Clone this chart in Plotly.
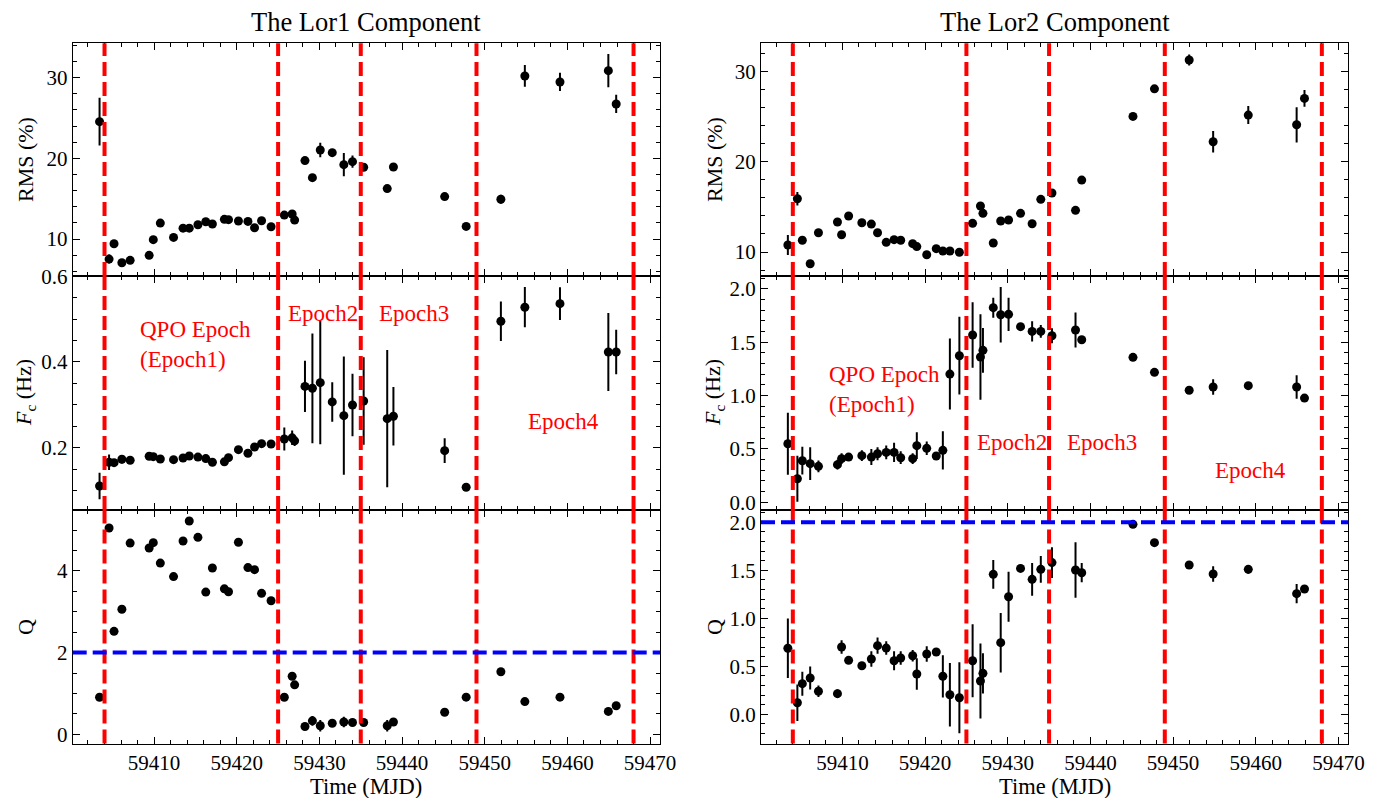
import plotly.graph_objects as go

# ---------------- data ----------------
mjd = [59403.4, 59404.55, 59405.15, 59406.1, 59407.1, 59409.4, 59409.9, 59410.75, 59412.35, 59413.5,
       59414.25, 59415.3, 59416.25, 59417.05, 59418.5, 59419.0, 59420.2, 59421.35, 59422.15, 59423.0,
       59424.15, 59425.75, 59426.7, 59427.0, 59428.25, 59429.15, 59430.1, 59431.55, 59432.95, 59434.0,
       59435.35, 59438.2, 59438.95, 59445.15, 59447.75, 59451.95, 59454.85, 59459.1, 59464.95, 59465.9]

lor1_rms = [24.55, 7.52, 9.42, 7.06, 7.36, 7.98, 9.92, 11.98, 10.2, 11.35,
            11.35, 11.77, 12.14, 11.86, 12.44, 12.4, 12.23, 12.19, 11.4, 12.27,
            11.52, 12.97, 13.1, 12.35, 19.72, 17.61, 21.04, 20.71, 19.22, 19.59,
            18.9, 16.25, 18.93, 15.26, 11.57, 14.93, 30.21, 29.47, 30.87, 26.74]
lor1_rms_err = [2.95, 0.55, 0.2, 0.2, 0.2, 0.2, 0.2, 0.2, 0.2, 0.2,
                0.2, 0.2, 0.2, 0.2, 0.2, 0.2, 0.2, 0.2, 0.2, 0.2,
                0.2, 0.3, 0.3, 0.3, 0.3, 0.2, 0.9, 0.3, 1.45, 0.75,
                0.3, 0.4, 0.3, 0.2, 0.2, 0.55, 1.35, 1.13, 2.06, 1.13]

lor1_fc = [0.1106, 0.166, 0.165, 0.173, 0.1706, 0.18, 0.179, 0.1736, 0.172, 0.176,
           0.1806, 0.178, 0.1745, 0.166, 0.167, 0.1767, 0.1953, 0.187, 0.2016, 0.2093,
           0.2086, 0.2203, 0.223, 0.216, 0.343, 0.3386, 0.3517, 0.3067, 0.2747, 0.2996,
           0.309, 0.2677, 0.2733, 0.193, 0.1076, 0.495, 0.5277, 0.536, 0.4233, 0.4233]
lor1_fc_err = [0.031, 0.018, 0.008, 0.01, 0.006, 0.006, 0.006, 0.006, 0.006, 0.006,
               0.006, 0.008, 0.006, 0.006, 0.006, 0.006, 0.006, 0.006, 0.006, 0.006,
               0.006, 0.027, 0.017, 0.012, 0.06, 0.128, 0.144, 0.046, 0.138, 0.073,
               0.102, 0.16, 0.068, 0.029, 0.004, 0.046, 0.047, 0.038, 0.091, 0.052]

lor1_q = [0.906, 5.05, 2.52, 3.06, 4.68, 4.56, 4.69, 4.19, 3.86, 4.73,
          5.22, 4.82, 3.48, 4.07, 3.56, 3.49, 4.70, 4.08, 4.03, 3.45,
          3.27, 0.906, 1.42, 1.21, 0.19, 0.33, 0.21, 0.27, 0.30, 0.29,
          0.29, 0.21, 0.30, 0.54, 0.91, 1.53, 0.80, 0.91, 0.56, 0.70]
lor1_q_err = [0.03, 0.03, 0.03, 0.03, 0.03, 0.03, 0.03, 0.03, 0.03, 0.03,
              0.03, 0.03, 0.03, 0.03, 0.03, 0.03, 0.03, 0.03, 0.03, 0.03,
              0.03, 0.03, 0.03, 0.03, 0.03, 0.12, 0.14, 0.03, 0.13, 0.03,
              0.03, 0.14, 0.03, 0.03, 0.03, 0.03, 0.03, 0.03, 0.07, 0.03]

lor2_rms = [10.78, 15.91, 11.3, 8.7, 12.14, 13.33, 11.92, 13.99, 13.25, 13.1,
            12.14, 11.07, 11.37, 11.3, 10.93, 10.6, 9.7, 10.37, 10.11, 10.11,
            9.97, 13.18, 15.1, 14.29, 11.0, 13.44, 13.55, 14.29, 13.14, 15.84,
            16.54, 14.62, 17.98, 25.04, 28.1, 31.3, 22.23, 25.19, 24.11, 27.04]
lor2_rms_err = [1.1, 0.74, 0.2, 0.2, 0.2, 0.2, 0.2, 0.2, 0.2, 0.2,
                0.2, 0.2, 0.2, 0.2, 0.2, 0.2, 0.2, 0.2, 0.2, 0.2,
                0.2, 0.2, 0.2, 0.2, 0.2, 0.2, 0.2, 0.2, 0.2, 0.2,
                0.2, 0.2, 0.2, 0.2, 0.2, 0.6, 1.2, 1.0, 1.95, 0.92]

lor2_fc = [0.549, 0.221, 0.39, 0.362, 0.337, 0.353, 0.409, 0.424, 0.437, 0.424,
           0.455, 0.468, 0.468, 0.418, 0.409, 0.531, 0.506, 0.434, 0.487, 1.202,
           1.374, 1.568, 1.362, 1.424, 1.824, 1.758, 1.762, 1.646, 1.602, 1.602,
           1.561, 1.615, 1.524, 1.359, 1.218, 1.05, 1.081, 1.093, 1.081, 0.977]
lor2_fc_err = [0.29, 0.215, 0.13, 0.153, 0.055, 0.045, 0.05, 0.03, 0.05, 0.075,
               0.06, 0.065, 0.09, 0.06, 0.05, 0.125, 0.063, 0.02, 0.18, 0.333,
               0.364, 0.307, 0.4, 0.21, 0.094, 0.26, 0.156, 0.02, 0.094, 0.06,
               0.07, 0.164, 0.02, 0.01, 0.01, 0.01, 0.073, 0.02, 0.11, 0.01]

lor2_q = [0.6875, 0.121, 0.319, 0.378, 0.24, 0.215, 0.701, 0.5625, 0.506, 0.576,
          0.715, 0.69, 0.558, 0.586, 0.61, 0.42, 0.628, 0.649, 0.396, 0.204,
          0.173, 0.558, 0.347, 0.427, 1.458, 0.746, 1.225, 1.52, 1.406, 1.51,
          1.58, 1.503, 1.475, 1.979, 1.788, 1.555, 1.461, 1.51, 1.257, 1.305]
lor2_q_err = [0.31, 0.19, 0.125, 0.12, 0.06, 0.045, 0.07, 0.03, 0.02, 0.08,
              0.085, 0.07, 0.1, 0.07, 0.06, 0.165, 0.08, 0.02, 0.22, 0.33,
              0.37, 0.38, 0.39, 0.21, 0.15, 0.31, 0.26, 0.02, 0.17, 0.14,
              0.16, 0.29, 0.1, 0.01, 0.01, 0.01, 0.08, 0.045, 0.1, 0.02]

epoch_bounds = [59404, 59425, 59435, 59449, 59468]
q_threshold = 2

panel_titles = ["The Lor1 Component", "The Lor2 Component"]
y_titles = ["RMS (%)", "<i>F</i><sub>c</sub> (Hz)", "Q"]
x_title = "Time (MJD)"

# epoch labels: (col, text, x, y)
epoch_labels = [
    (1, "QPO Epoch<br>(Epoch1)", 59408.0, 0.44),
    (1, "Epoch2", 59426.0, 0.514),
    (1, "Epoch3", 59437.0, 0.514),
    (1, "Epoch4", 59455.0, 0.261),
    (2, "QPO Epoch<br>(Epoch1)", 59408.1, 1.06),
    (2, "Epoch2", 59426.0, 0.56),
    (2, "Epoch3", 59436.9, 0.56),
    (2, "Epoch4", 59454.8, 0.30),
]

# ---------------- layout geometry ----------------
# the page body adds an 8px margin, so the figure is offset by OFF pixels
W, H = 1379, 798
OFF = 8
FW, FH = W - OFF, H - OFF
FONT = "Liberation Serif"


def px(x):
    return (x - OFF) / FW


def py(y):
    return 1 - (y - OFF) / FH


xdom = {1: [px(72.7), px(660.0)], 2: [px(761.0), px(1348.3)]}
ydom = {1: [py(276.0), py(43.3)], 2: [py(510.0), py(276.0)], 3: [py(743.5), py(510.0)]}
xrange_ = [59400.15, 59471.2]

# (row, col, y, err, yrange, dtick, minor_dtick, tickformat)
panels = [
    (1, 1, lor1_rms, lor1_rms_err, [5.42, 34.26], 10, 2, "d"),
    (1, 2, lor2_rms, lor2_rms_err, [7.34, 33.15], 10, 2, "d"),
    (2, 1, lor1_fc, lor1_fc_err, [0.0546, 0.6005], 0.2, 0.05, ".1f"),
    (2, 2, lor2_fc, lor2_fc_err, [-0.072, 2.121], 0.5, 0.1, ".1f"),
    (3, 1, lor1_q, lor1_q_err, [-0.225, 5.49], 2, 0.5, "d"),
    (3, 2, lor2_q, lor2_q_err, [-0.304, 2.128], 0.5, 0.1, ".1f"),
]

fig = go.Figure()
shapes = []
annotations = []
axis_common = dict(
    showline=True, linecolor="black", linewidth=1, mirror="ticks",
    ticks="inside", ticklen=7, tickwidth=1, tickcolor="black",
    showgrid=False, zeroline=False,
    tickfont=dict(family=FONT, size=21, color="black"),
)

for row, col, yv, ye, yr, dt, mdt, fmt in panels:
    k = (row - 1) * 2 + col
    xa = "x" if k == 1 else f"x{k}"
    ya = "y" if k == 1 else f"y{k}"
    fig.add_trace(go.Scatter(
        x=mjd, y=yv, mode="markers", xaxis=xa, yaxis=ya,
        marker=dict(color="black", size=9),
        error_y=dict(type="data", array=ye, visible=True, color="black", thickness=2, width=0),
        showlegend=False, hoverinfo="x+y",
    ))
    fig.layout[f"xaxis{k}"] = dict(
        domain=xdom[col], range=xrange_, anchor=ya,
        dtick=10, tick0=59400, tickformat="d", showticklabels=(row == 3),
        minor=dict(dtick=2, ticks="inside", ticklen=4, tickcolor="black"),
        **axis_common,
    )
    fig.layout[f"yaxis{k}"] = dict(
        domain=ydom[row], range=yr, anchor=xa,
        dtick=dt, tick0=0, tickformat=fmt,
        minor=dict(dtick=mdt, ticks="inside", ticklen=4, tickcolor="black"),
        **axis_common,
    )
    for xb in epoch_bounds:
        shapes.append(dict(type="line", xref=xa, yref=f"{ya} domain", x0=xb, x1=xb, y0=0, y1=1,
                           line=dict(color="#ff0000", width=4, dash="14px,6px"), layer="above"))
    if row == 3:
        shapes.append(dict(type="line", xref=f"{xa} domain", yref=ya, x0=0, x1=1,
                           y0=q_threshold, y1=q_threshold,
                           line=dict(color="#0000ff", width=4, dash="14px,6px"), layer="above"))

# epoch labels
for col, txt, xv, yv in epoch_labels:
    k = 2 + col
    annotations.append(dict(text=txt, x=xv, y=yv, xref=f"x{k}", yref=f"y{k}",
                            xanchor="left", yanchor="middle", showarrow=False, align="left",
                            font=dict(family=FONT, size=23, color="#ff0000")))

# panel titles and axis titles
col_centers = {1: 366.0, 2: 1055.0}
ylab_x = {1: 25.0, 2: 714.0}
row_centers = {1: 160.0, 2: 393.0, 3: 627.0}
for col in (1, 2):
    annotations.append(dict(text=panel_titles[col - 1], x=px(col_centers[col]), y=py(22.0),
                            xref="paper", yref="paper", xanchor="center", yanchor="middle",
                            showarrow=False, font=dict(family=FONT, size=26.5, color="black")))
    annotations.append(dict(text=x_title, x=px(col_centers[col]), y=py(786.0),
                            xref="paper", yref="paper", xanchor="center", yanchor="middle",
                            showarrow=False, font=dict(family=FONT, size=22.5, color="black")))
    for row in (1, 2, 3):
        annotations.append(dict(text=y_titles[row - 1], x=px(ylab_x[col]), y=py(row_centers[row]),
                                xref="paper", yref="paper", xanchor="center", yanchor="middle",
                                textangle=-90, showarrow=False,
                                font=dict(family=FONT, size=22, color="black")))

fig.update_layout(
    width=FW, height=FH, template="none",
    margin=dict(l=0, r=0, t=0, b=0),
    paper_bgcolor="white", plot_bgcolor="white",
    font=dict(family=FONT, size=21, color="black"),
    shapes=shapes, annotations=annotations, showlegend=False,
)

fig.write_html("out.html")
